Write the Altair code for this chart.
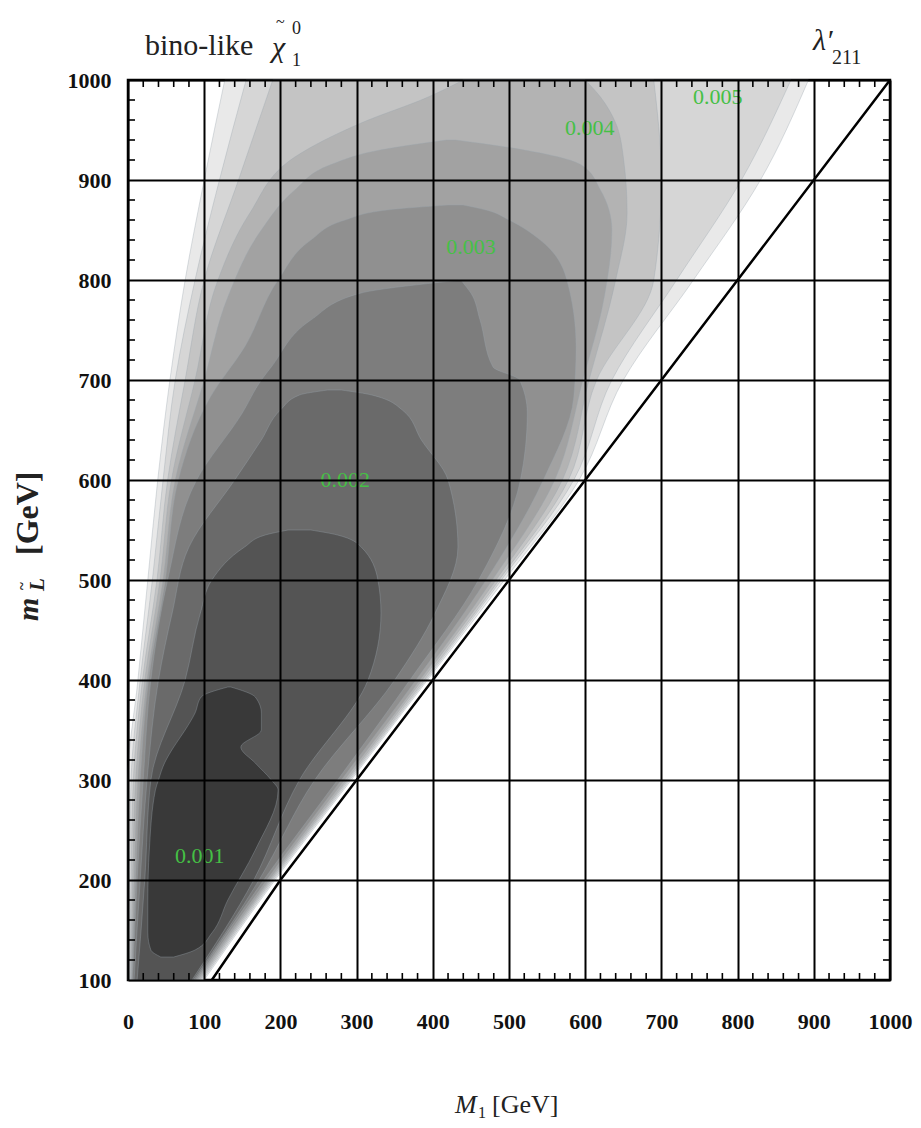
import altair as alt
import pandas as pd

# ---------------- data ----------------
x_ticks = [0, 100, 200, 300, 400, 500, 600, 700, 800, 900, 1000]
y_ticks = [100, 200, 300, 400, 500, 600, 700, 800, 900, 1000]
x_minor = [v for v in range(0, 1001, 20) if v % 100]
y_minor = [v for v in range(100, 1001, 20) if v % 100]

# contour regions (outer -> inner), each: y, left edge x, right edge x
L1_y = [100, 200, 300, 400, 500, 600, 700, 800, 900, 1000]
L1_l = [0, 0, 0, 13, 26, 39, 55, 75, 100, 127]
L1_r = [100, 193, 293, 393, 494, 592, 650, 742, 830, 893]

L2_y = [100, 200, 300, 400, 500, 600, 700, 800, 900, 1000]
L2_l = [1, 2, 4, 16, 32, 46, 62, 88, 120, 155]
L2_r = [98, 191, 291, 391, 490, 585, 635, 720, 805, 870]

L3_y = [100, 200, 300, 400, 500, 600, 700, 800, 900, 1000]
L3_l = [2, 4, 7, 19, 38, 52, 75, 100, 145, 190]
L3_r = [96, 189, 289, 389, 487, 578, 615, 690, 700, 690]

L4_y = [100, 200, 300, 400, 500, 600, 700, 800, 867, 923, 957, 983, 1000]
L4_l = [3, 6, 10, 22, 42, 57, 88, 118, 160, 219, 306, 394, 440]
L4_r = [94, 187, 287, 386, 483, 570, 605, 640, 655, 650, 640, 620, 600]

L5_y = [100, 200, 300, 400, 500, 600, 700, 783, 850, 890, 915, 930, 940]
L5_l = [4, 8, 13, 25, 46, 62, 100, 131, 175, 219, 265, 331, 418]
L5_r = [92, 185, 284, 383, 478, 560, 597, 625, 635, 620, 595, 520, 430]

L6_y = [100, 200, 300, 400, 500, 600, 683, 733, 800, 840, 860, 870, 875]
L6_l = [5, 10, 16, 27, 49, 66, 108, 153, 197, 240, 285, 340, 420]
L6_r = [90, 182, 280, 378, 470, 545, 585, 588, 576, 541, 500, 470, 440]

L7_y = [100, 200, 300, 400, 500, 600, 667, 700, 713, 760, 787, 797, 800]
L7_l = [6, 12, 20, 30, 52, 90, 150, 175, 188, 240, 306, 400, 437]
L7_r = [88, 178, 275, 370, 460, 515, 524, 514, 479, 462, 450, 440, 437]

L8_y = [100, 200, 300, 400, 467, 533, 600, 640, 670, 685, 690]
L8_l = [8, 16, 25, 40, 58, 80, 140, 175, 200, 225, 262]
L8_r = [86, 172, 245, 350, 403, 433, 420, 385, 360, 320, 280]

L9_y = [100, 200, 300, 400, 467, 500, 533, 545, 550]
L9_l = [12, 22, 30, 75, 95, 110, 153, 180, 210]
L9_r = [84, 165, 225, 315, 332, 328, 306, 275, 240]

L10_y = [123, 130, 147, 180, 230, 290, 300, 317, 333, 350, 367, 383, 393]
L10_l = [43, 30, 26, 26, 28, 36, 40, 48, 60, 75, 88, 96, 131]
L10_r = [60, 88, 110, 131, 167, 197, 188, 167, 148, 175, 175, 167, 135]

level_colors = ["#e9e9e9", "#d6d6d6", "#c4c4c4", "#b3b3b3", "#a2a2a2",
                "#909090", "#7d7d7d", "#6a6a6a", "#545454", "#393939"]

# diagonal M1 = m_L
line_x = [110, 200, 1000]
line_y = [100, 200, 1000]

# contour labels
lab_text = ["0.001", "0.002", "0.003", "0.004", "0.005"]
lab_x = [94, 285, 450, 606, 774]
lab_y = [224, 600, 833, 952, 983]

# ---------------- chart ----------------
W, H = 762, 900
xscale = alt.Scale(domain=[0, 1000], nice=False, zero=False)
yscale = alt.Scale(domain=[100, 1000], nice=False, zero=False)
FONT = "Liberation Serif"

common_axis = dict(grid=True, gridColor="black", gridWidth=2, gridOpacity=1,
                   ticks=False, domain=False, labelFont=FONT, labelFontWeight="bold",
                   labelFontSize=22, labelColor="#111111", title=None, zindex=1,
                   format="d", labelFlush=False, labelOverlap=False)
xaxis = alt.Axis(values=x_ticks, labelPadding=31, **common_axis)
yaxis = alt.Axis(values=y_ticks, labelPadding=17, **common_axis)

layers = []
levels = [(L1_y, L1_l, L1_r), (L2_y, L2_l, L2_r), (L3_y, L3_l, L3_r),
          (L4_y, L4_l, L4_r), (L5_y, L5_l, L5_r), (L6_y, L6_l, L6_r),
          (L7_y, L7_l, L7_r), (L8_y, L8_l, L8_r), (L9_y, L9_l, L9_r),
          (L10_y, L10_l, L10_r)]
for (ys, ls, rs), col in zip(levels, level_colors):
    df = pd.DataFrame({"y": ys, "left": ls, "right": rs})
    layers.append(
        alt.Chart(df).mark_area(orient="horizontal", color=col, interpolate="monotone",
                                stroke="#9aa4ad", strokeWidth=0.6, strokeOpacity=0.6)
        .encode(y=alt.Y("y:Q", scale=yscale, axis=yaxis),
                x=alt.X("left:Q", scale=xscale, axis=xaxis),
                x2="right:Q")
    )

diag = alt.Chart(pd.DataFrame({"x": line_x, "y": line_y})).mark_line(
    color="black", strokeWidth=2.5).encode(
    x=alt.X("x:Q", scale=xscale, axis=xaxis), y=alt.Y("y:Q", scale=yscale, axis=yaxis))
layers.append(diag)

# minor ticks (inward)
mx = pd.DataFrame({"v": x_minor})
my = pd.DataFrame({"v": y_minor})
tick_style = dict(color="black", strokeWidth=1.6)
layers.append(alt.Chart(mx).mark_rule(**tick_style).encode(
    x=alt.X("v:Q", scale=xscale, axis=xaxis), y=alt.value(H), y2=alt.value(H - 7)))
layers.append(alt.Chart(mx).mark_rule(**tick_style).encode(
    x=alt.X("v:Q", scale=xscale, axis=xaxis), y=alt.value(0), y2=alt.value(7)))
layers.append(alt.Chart(my).mark_rule(**tick_style).encode(
    y=alt.Y("v:Q", scale=yscale, axis=yaxis), x=alt.value(0), x2=alt.value(7)))
layers.append(alt.Chart(my).mark_rule(**tick_style).encode(
    y=alt.Y("v:Q", scale=yscale, axis=yaxis), x=alt.value(W), x2=alt.value(W - 7)))

# contour labels
labs = pd.DataFrame({"x": lab_x, "y": lab_y, "t": lab_text})
layers.append(alt.Chart(labs).mark_text(font=FONT, fontSize=22, color="#45c045").encode(
    x=alt.X("x:Q", scale=xscale, axis=xaxis), y=alt.Y("y:Q", scale=yscale, axis=yaxis),
    text="t:N"))


def txt(s, x, y, size, style="normal", weight="normal", angle=0, align="left"):
    return alt.Chart(pd.DataFrame({"t": [s]})).mark_text(
        text=s, font=FONT, fontSize=size, fontStyle=style, fontWeight=weight,
        angle=angle, align=align, baseline="alphabetic", color="#222222"
    ).encode(x=alt.value(x), y=alt.value(y))


ox, oy = 128, 80  # plot origin in page pixels
annots = [
    txt("bino-like", 145 - ox, 55 - oy, 30),
    txt("χ", 272 - ox, 57 - oy, 30, style="italic"),
    txt("~", 276 - ox, 27 - oy, 16),
    txt("0", 292 - ox, 34 - oy, 18),
    txt("1", 292 - ox, 66 - oy, 18),
    txt("λ′", 813 - ox, 50 - oy, 30, style="italic"),
    txt("211", 832 - ox, 64 - oy, 20),
    # x title
    txt("M", 455 - ox, 1113 - oy, 26, style="italic"),
    txt("1", 478 - ox, 1118 - oy, 16),
    txt("[GeV]", 492 - ox, 1113 - oy, 26),
    # y title (rotated)
    txt("m", 38 - ox, 621 - oy, 30, style="italic", weight="bold", angle=270),
    txt("L", 44 - ox, 591 - oy, 21, style="italic", weight="bold", angle=270),
    txt("~", 27 - ox, 590 - oy, 15, weight="bold", angle=270),
    txt("[GeV]", 38 - ox, 555 - oy, 32, weight="bold", angle=270),
]
layers += annots

chart = alt.layer(*layers).properties(
    width=W, height=H,
    padding={"left": ox, "top": oy, "right": 921 - ox - W, "bottom": 1128 - oy - H},
    autosize=alt.AutoSizeParams(type="none"),
    background="white",
).configure_view(stroke="black", strokeWidth=2.5)

chart.save("out.html", embed_options={"renderer": "svg", "actions": False})
